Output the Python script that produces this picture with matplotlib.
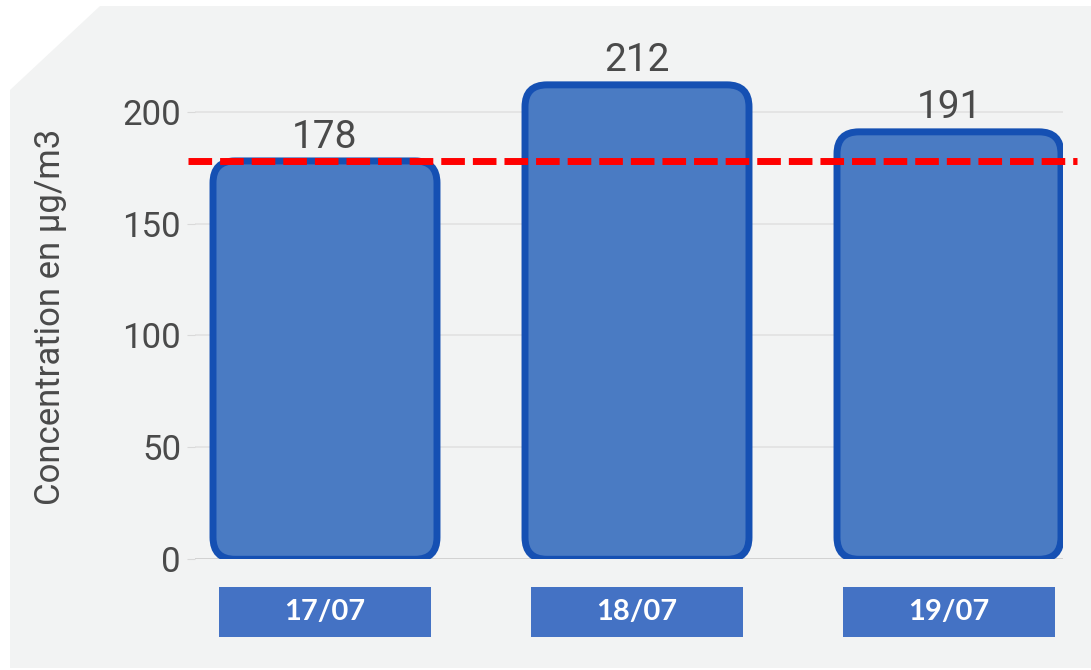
import numpy as np
import matplotlib.pyplot as plt
from matplotlib.patches import FancyBboxPatch, Rectangle, Polygon
import matplotlib.transforms as mtransforms

# data
dates = ['17/07', '18/07', '19/07']
values = [178, 212, 191]
threshold = 178
yticks = [0, 50, 100, 150, 200]
ylabel = 'Concentration en µg/m3'

W, H = 1091, 670
fig = plt.figure(figsize=(W / 100, H / 100), dpi=100, facecolor='white')

# gray panel with cut top-left corner (pixel coords -> figure fraction)
panel = [(10, 90), (100, 6), (1091, 6), (1091, 668), (10, 668)]
fig.patches.append(Polygon([(x / W, 1 - y / H) for x, y in panel], closed=True,
                           transform=fig.transFigure, facecolor='#f2f3f3',
                           edgecolor='none', zorder=-10))

# axes placed in pixels
left, right, bottom, top = 195, 1063, 559.3, 42
ymax = (bottom - top) / 2.238
ax = fig.add_axes([left / W, 1 - bottom / H, (right - left) / W, (bottom - top) / H])
ax.set_zorder(1)
ax.set_facecolor('none')
x_step = 312.0
x0 = 325.0
ax.set_xlim((left - x0) / x_step, (right - x0) / x_step)
ax.set_ylim(0, ymax)

for s in ax.spines.values():
    s.set_visible(False)
ax.set_xticks([])
ax.set_yticks(yticks)
ax.tick_params(axis='y', length=6, color='#d9d9d9', pad=4, labelsize=25,
               labelcolor='#4a4a4a')
for lbl in ax.get_yticklabels():
    lbl.set_family('Roboto')
for t in yticks:
    ax.axhline(t, color='#cccccc' if t == 0 else '#e2e2e2', lw=1.2, zorder=1)

ax.set_ylabel(ylabel, fontsize=25, color='#4a4a4a', family='Roboto', va='center')
ax.yaxis.set_label_coords((51 - left) / (right - left), (bottom - 317) / (bottom - top))

# rounded bars
px_per_x = x_step
px_per_y = 2.238
aspect = px_per_x / px_per_y
bw = 224 / x_step
radius = 22 / x_step
for i, v in enumerate(values):
    p = FancyBboxPatch((i - bw / 2, 0), bw, v,
                       boxstyle=f'round,pad=0,rounding_size={radius}',
                       mutation_aspect=aspect, facecolor='#4a7bc3',
                       edgecolor='#1550b3', lw=5, zorder=3)
    ax.add_patch(p)
    ax.text(i, v + 6, str(v), ha='center', va='baseline', fontsize=28,
            color='#4a4a4a', family='Roboto', zorder=4)

# threshold line
trans = mtransforms.blended_transform_factory(ax.transAxes, ax.transData)
ax.plot([(188 - left) / (right - left), (1077 - left) / (right - left)],
        [threshold, threshold], transform=trans, color='#ff0000', lw=5,
        dashes=(3.4, 1.15), solid_capstyle='butt', dash_capstyle='butt',
        clip_on=False, zorder=5)

# date boxes under bars
box_w = 212 / x_step
box_top = (bottom - 587) / px_per_y
box_bot = (bottom - 637) / px_per_y
for i, d in enumerate(dates):
    ax.add_patch(Rectangle((i - box_w / 2, box_bot), box_w, box_top - box_bot,
                           facecolor='#4472c4', edgecolor='none',
                           clip_on=False, zorder=3))
    ax.text(i, (box_top + box_bot) / 2, d, ha='center', va='center',
            fontsize=21, fontweight='bold', color='white', family='Lato',
            clip_on=False, zorder=4)

fig.savefig('out.png', dpi=100)
